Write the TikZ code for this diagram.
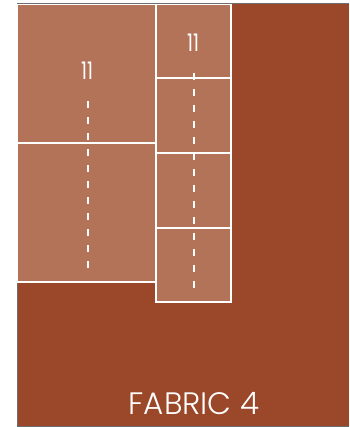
\documentclass[tikz,border=0pt]{standalone}
\usepackage{fontspec}
\setmainfont{Poppins Light}
\newfontfamily\numfont{Poppins}
\definecolor{fabric}{HTML}{9A4829}
\definecolor{piece}{HTML}{B37358}
\definecolor{edge}{HTML}{6E6E6E}
\begin{document}
\begin{tikzpicture}[x=1pt,y=-1pt,
  piecebox/.style={draw=white,line width=1.2pt,fill=piece,inner sep=0pt,outer sep=0pt},
  cutline/.style={draw=white,line width=1.8pt,dash pattern=on 7pt off 9pt},
  lbl/.style={text=white,font=\numfont\fontsize{22}{22}\selectfont,inner sep=0pt}]
\useasboundingbox (0,0) rectangle (349,427);
% fabric
\fill[fabric] (17,4) rectangle (349,426);
\draw[edge,line width=1pt] (349,4) -- (17,4) -- (17,426) -- (349,426);
% left pieces
\path[piecebox] (17,4.5) rectangle (156,143);
\path[piecebox] (17,143) rectangle (156,282);
% right pieces
\path[piecebox] (156,4.5) rectangle (231,78);
\path[piecebox] (156,78) rectangle (231,153);
\path[piecebox] (156,153) rectangle (231,228);
\path[piecebox] (156,228) rectangle (231,302);
% labels
\node[lbl] (l1) at (87,71) {\scalebox{0.85}[1.1]{11}};
\node[lbl] (l2) at (193,43) {\scalebox{0.85}[1.1]{11}};
% cut lines
\coordinate (a1) at (88,101);
\coordinate (a2) at (88,275);
\coordinate (b1) at (194,73);
\coordinate (b2) at (194,292);
\draw[cutline] (a1) -- (a2);
\draw[cutline] (b1) -- (b2);
\node[text=white,font=\fontsize{31}{31}\selectfont,inner sep=0pt] (title) at (194,404) {FABRIC 4};
\end{tikzpicture}
\end{document}
